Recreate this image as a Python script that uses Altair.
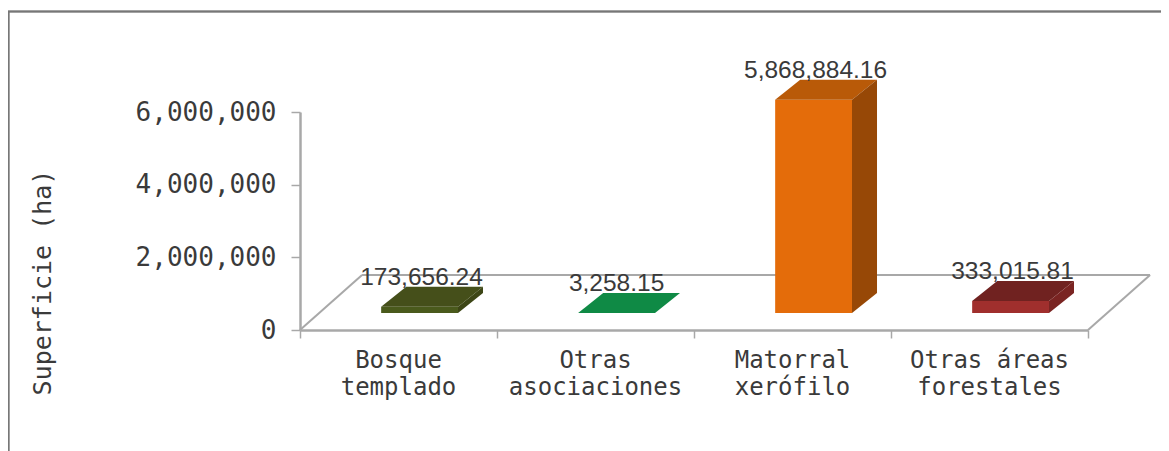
import altair as alt
import pandas as pd

categories = ["Bosque\ntemplado", "Otras\nasociaciones", "Matorral\nxerófilo", "Otras áreas\nforestales"]
values = [173656.24, 3258.15, 5868884.16, 333015.81]
value_labels = ["173,656.24", "3,258.15", "5,868,884.16", "333,015.81"]
front_colors = ["#4a5a1c", "#0f8a45", "#e46c0a", "#a02f2d"]
top_colors = ["#454f1a", "#0f8a45", "#b95a08", "#702220"]
side_colors = ["#3d4616", "#0f8a45", "#974806", "#7a2422"]
label_shift = [0.01, 0.0, 0.01, 0.01]
y_title = "Superficie (ha)"

# projection constants, in scale units
FLOOR_DX, FLOOR_DY = 0.315, 1514000
BASE_DX, BASE_DY = 0.107, 468000
DEPTH_DX, DEPTH_DY = 0.127, 550000
HALF = 0.195

rows, tops, sides = [], [], []
for i, (c, v) in enumerate(zip(categories, values)):
    left = i + 0.5 + BASE_DX - HALF
    right = i + 0.5 + BASE_DX + HALF
    y0, y1 = BASE_DY, BASE_DY + v
    rows.append(dict(cat=c, x=left, x2=right, y=y0, y2=y1, color=front_colors[i],
                     lx=i + 0.5 + BASE_DX + label_shift[i], ly=y1 + DEPTH_DY,
                     label=value_labels[i], cx=i + 0.5))
    tops.append(dict(cat=c, y=y1, x=left, x2=right, color=top_colors[i]))
    tops.append(dict(cat=c, y=y1 + DEPTH_DY, x=left + DEPTH_DX, x2=right + DEPTH_DX, color=top_colors[i]))
    sides.append(dict(cat=c, x=right, y=y0, y2=y1, color=side_colors[i]))
    sides.append(dict(cat=c, x=right + DEPTH_DX, y=y0 + DEPTH_DY, y2=y1 + DEPTH_DY, color=side_colors[i]))
front = pd.DataFrame(rows)
top = pd.DataFrame(tops)
side = pd.DataFrame(sides)

floor = pd.DataFrame([
    dict(part="back", x=FLOOR_DX, y=FLOOR_DY), dict(part="back", x=4 + FLOOR_DX, y=FLOOR_DY),
    dict(part="left", x=0, y=0), dict(part="left", x=FLOOR_DX, y=FLOOR_DY),
    dict(part="right", x=4, y=0), dict(part="right", x=4 + FLOOR_DX, y=FLOOR_DY),
])

GRAY = "#a8a8a8"
TEXT = "#3a3a3a"
MONO = "DejaVu Sans Mono"
xs = alt.Scale(domain=[0, 4], nice=False, zero=False)
ys = alt.Scale(domain=[0, 6000000], nice=False)
X = alt.X("x:Q", scale=xs, title=None)
Y = alt.Y("y:Q", scale=ys, title=y_title)
C = alt.Color("color:N", scale=None, legend=None)

axes = alt.Chart(floor).mark_line(stroke=GRAY, strokeWidth=2).encode(
    x=alt.X("x:Q", scale=xs, title=None, axis=alt.Axis(
        values=[0, 1, 2, 3, 4], labels=False, grid=False, tickSize=8, tickWidth=1.5,
        tickColor=GRAY, domainColor=GRAY, domainWidth=2.5)),
    y=alt.Y("y:Q", scale=ys, title=y_title, axis=alt.Axis(
        values=[0, 2000000, 4000000, 6000000], labelExpr="format(datum.value, ',')",
        grid=False, tickSize=9, tickWidth=1.5,
        tickColor=GRAY, domainColor=GRAY, domainWidth=2.5, labelPadding=15,
        labelFont=MONO, labelFontSize=26, labelColor=TEXT, labelFontWeight="normal",
        titleFont=MONO, titleFontSize=25, titleColor=TEXT,
        titleFontWeight="normal", titleX=-258, titleY=170, titleAngle=270,
        titleAlign="center", titleBaseline="middle")),
    detail="part:N",
)

front_l = alt.Chart(front).mark_rect().encode(x=X, x2="x2:Q", y=Y, y2="y2:Q", color=C)
top_l = alt.Chart(top).mark_area(orient="horizontal").encode(x=X, x2="x2:Q", y=Y, color=C, detail="cat:N")
side_l = alt.Chart(side).mark_area().encode(x=X, y=Y, y2="y2:Q", color=C, detail="cat:N")

labels = alt.Chart(front).mark_text(font="Liberation Sans", fontSize=24.5, color=TEXT, baseline="bottom", dy=3).encode(
    x=alt.X("lx:Q", scale=xs, title=None), y=alt.Y("ly:Q", scale=ys, title=y_title), text="label:N")

cats = alt.Chart(front).transform_calculate(zero="0").mark_text(
    font=MONO, fontSize=24, color=TEXT, baseline="top", lineBreak="\n", lineHeight=27, dy=19
).encode(x=alt.X("cx:Q", scale=xs, title=None), y=alt.Y("zero:Q", scale=ys, title=y_title), text="cat:N")

frame_top = alt.Chart(front).mark_rule(stroke="#777777", strokeWidth=1.5).encode(
    x=alt.value(-292), x2=alt.value(870), y=alt.value(-100.5))
frame_left = alt.Chart(front).mark_rule(stroke="#777777", strokeWidth=1.5).encode(
    x=alt.value(-291.5), y=alt.value(-100.5), y2=alt.value(340))

chart = alt.layer(axes, frame_top, frame_left, front_l, top_l, side_l, labels, cats).properties(
    width=788, height=218, autosize=alt.AutoSizeParams(type="none"),
    padding={"left": 292, "top": 104, "right": 73, "bottom": 121},
).configure_view(stroke=None)

chart.save("out.html", embed_options={"renderer": "svg", "actions": False})
